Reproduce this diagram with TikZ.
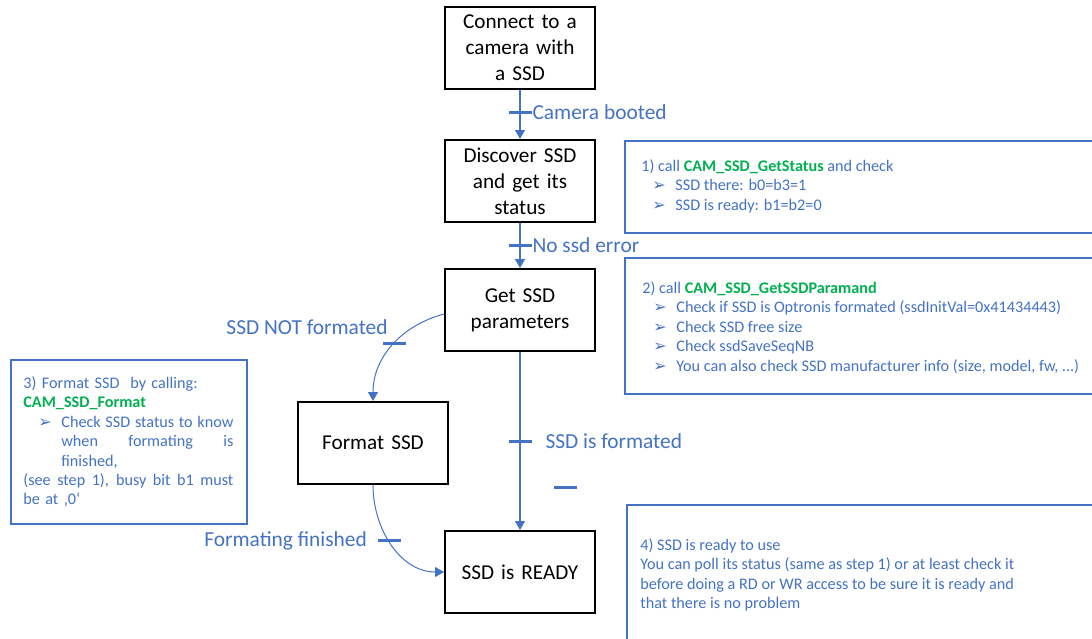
\documentclass[tikz,border=0pt]{standalone}
\usepackage{fontspec}
\setmainfont{Carlito}
\newfontfamily\arrowFont{DejaVu Sans}
\usetikzlibrary{positioning,arrows.meta}
\definecolor{flowBlue}{HTML}{4472C4}
\definecolor{codeGreen}{HTML}{00B050}
\tikzstyle{picScale} = [x = 0.5pt, y = -0.5pt]
\tikzstyle{stepBox} = [draw=black, line width=1pt, minimum width=75pt, minimum height=41pt, text width=72pt, align=center, inner sep=0pt, font=\fontsize{10.6}{13}\selectfont]
\tikzstyle{flowLine} = [draw=flowBlue, line width=0.6pt, -{Triangle[width=5pt,length=4.5pt]}]
\tikzstyle{tickMark} = [fill=flowBlue, inner sep=0pt, minimum width=11.5pt, minimum height=1.5pt]
\tikzstyle{edgeLabel} = [text=flowBlue, inner sep=0pt, font=\fontsize{10.7}{13}\selectfont]
\tikzstyle{noteBox} = [draw=flowBlue, line width=1pt, inner sep=0pt, anchor=north west]
\tikzstyle{noteText} = [text=flowBlue, inner sep=0pt, anchor=north west, align=left, font=\fontsize{8.1}{9.75}\selectfont]
\newcommand{\noteBullet}[1][5.5pt]{\hspace*{#1}\makebox[11.5pt][l]{\arrowFont\fontsize{8}{9.75}\selectfont ➢}}
\newcommand{\callName}[1]{\textcolor{codeGreen}{\textbf{#1}}}
\newcommand{\spreadLine}[2]{\makebox[#1][s]{\spaceskip=.25em plus 1fil\relax #2}}

\begin{document}
\begin{tikzpicture}[picScale]
    \clip (0,0) rectangle (1092,638);
    % flow steps
    \node[stepBox] (connectCam) at (520,48) {Connect to a\\ camera with\\ a SSD};
    \node[stepBox] (discoverSsd) at (520,181) {Discover SSD\\ and get its\\ status};
    \node[stepBox] (getParams) at (520,310) {Get SSD\\ parameters};
    \node[stepBox] (formatSsd) at (373,443) {Format SSD};
    \node[stepBox] (ssdReady) at (520,572) {SSD is READY};
    % connectors
    \draw[flowLine] (connectCam) -- node[tickMark, pos=.46] (bootTick) {} (discoverSsd);
    \node[edgeLabel, right=0pt of bootTick] (bootLabel) {Camera booted};
    \draw[flowLine] (discoverSsd) -- node[tickMark, pos=.5] (noErrTick) {} (getParams);
    \node[edgeLabel, right=0pt of noErrTick] (noErrLabel) {No ssd error};
    \draw[flowLine] (getParams) -- node[tickMark, pos=.5] (formatedTick) {} (ssdReady);
    \node[edgeLabel, right=6.5pt of formatedTick] (formatedLabel) {SSD is formated};
    \node[tickMark] (strayTick) at (565,487) {};
    \draw[flowLine, line width=0.5pt] ([yshift=-2pt]getParams.west) to[out=195, in=90] node[tickMark, pos=.48] (notFmtTick) {} (formatSsd.north);
    \node[edgeLabel, anchor=east] (notFmtLabel) at (388,327) {SSD NOT formated};
    \draw[flowLine, line width=0.5pt] (formatSsd.south) to[out=-90, in=180] node[tickMark, pos=.46] (fmtDoneTick) {} (ssdReady.west);
    \node[edgeLabel, left=5pt of fmtDoneTick] (fmtDoneLabel) {Formating finished};
    % notes
    \node[noteBox, minimum width=250pt, minimum height=46pt] (statusNote) at (624,140) {};
    \node[noteText] (statusText) at (641,159) {%
      1) call \callName{CAM\_SSD\_GetStatus} and check\\
      \noteBullet SSD there: b0=b3=1\\
      \noteBullet SSD is ready: b1=b2=0};
    \node[noteBox, minimum width=250pt, minimum height=68pt] (paramNote) at (624,257) {};
    \node[noteText] (paramText) at (642,281) {%
      2) call \callName{CAM\_SSD\_GetSSDParamand}\\
      \noteBullet Check if SSD is Optronis formated (ssdInitVal=0x41434443)\\
      \noteBullet Check SSD free size\\
      \noteBullet Check ssdSaveSeqNB\\
      \noteBullet You can also check SSD manufacturer info (size, model, fw, ...)};
    \node[noteBox, minimum width=118pt, minimum height=82pt] (formatNote) at (10,359) {};
    \node[noteText, text width=105pt] (formatText) at (23,376) {%
      3) Format SSD\ \ by calling:\\
      \callName{CAM\_SSD\_Format}\\
      \noteBullet[7.5pt]\parbox[t]{86pt}{\spreadLine{86pt}{Check SSD status to know}\\ \spreadLine{86pt}{when formating is}\\ finished,}\\[1.5pt]
      \spreadLine{105pt}{(see step 1), busy bit b1 must}\\
      be at ‚0‘};
    \node[noteBox, minimum width=250pt, minimum height=80pt] (readyNote) at (626,504) {};
    \node[noteText] (readyText) at (640,538) {%
      4) SSD is ready to use\\
      You can poll its status (same as step 1) or at least check it\\
      before doing a RD or WR access to be sure it is ready and\\
      that there is no problem};
\end{tikzpicture}
\end{document}
